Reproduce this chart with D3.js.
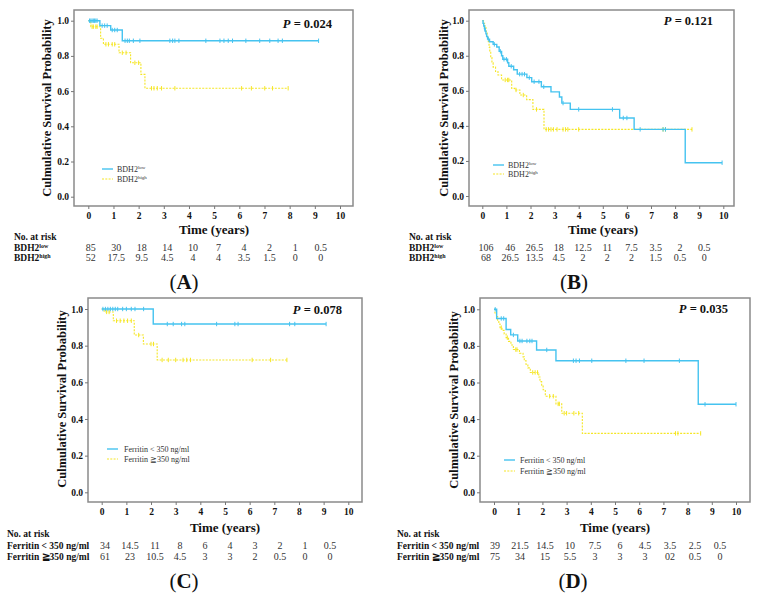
<!DOCTYPE html>
<html><head><meta charset="utf-8">
<script src="https://cdn.jsdelivr.net/npm/d3@7"></script>
<style>body{margin:0;background:#fff}svg{display:block}text{font-family:"Liberation Serif","Times New Roman",serif}</style>
</head><body><svg id="c" width="763" height="596"></svg>
<script>
// ---------- DATA ----------
const timeTicks = [0,1,2,3,4,5,6,7,8,9,10];
const probTicks = [0,0.2,0.4,0.6,0.8,1.0];
const pValues = ["0.024","0.121","0.078","0.035"];
const panelLabels = ["A","B","C","D"];

// Panel A
const aLowT  = [0,0.46,0.89,1.35,9.15];
const aLowS  = [1,0.972,0.947,0.886,0.886];
const aLowCens = [0.05,0.1,0.15,0.2,0.25,0.3,0.35,0.55,0.65,0.75,0.95,1.05,1.15,1.46,1.55,1.63,1.79,2.05,3.24,3.35,3.44,3.6,4.67,5.23,5.39,5.56,5.73,6.26,6.81,7.21,7.54,7.71,9.15];
const aHighT = [0,0.1,0.49,0.6,1.22,1.68,2.09,2.25,7.94];
const aHighS = [1,0.966,0.9,0.866,0.818,0.761,0.695,0.616,0.616];
const aHighCens = [0.15,0.2,0.3,0.35,0.7,0.8,0.95,1.05,1.35,1.5,1.85,2.0,2.51,2.61,2.74,2.91,3.44,6.09,6.48,7.01,7.32,7.94];
const aRiskLow  = ["85","30","18","14","10","7","4","2","1","0.5"];
const aRiskHigh = ["52","17.5","9.5","4.5","4","4","3.5","1.5","0","0"];

// Panel B
const bLowT = [0,0.03,0.06,0.09,0.12,0.15,0.18,0.22,0.3,0.45,0.6,0.7,0.8,0.85,1.05,1.1,1.3,1.45,1.85,2.05,2.45,2.85,3.2,3.3,3.65,5.7,6.3,8.42,9.95];
const bLowS = [1,0.985,0.97,0.955,0.94,0.925,0.91,0.895,0.88,0.865,0.85,0.825,0.8,0.78,0.76,0.74,0.72,0.695,0.675,0.652,0.623,0.594,0.565,0.53,0.494,0.445,0.38,0.19,0.19];
const bLowCens = [0.1,0.25,0.5,0.75,0.9,1.0,1.2,1.55,1.65,1.75,1.95,2.15,2.35,2.55,3.35,4.0,5.4,5.85,6.0,6.55,7.5,7.6,9.95];
const bHighT = [0,0.05,0.1,0.15,0.2,0.25,0.28,0.31,0.35,0.4,0.45,0.55,0.65,0.8,1.22,1.35,1.56,1.84,2.1,2.56,8.7];
const bHighS = [1,0.985,0.97,0.94,0.91,0.88,0.85,0.82,0.79,0.76,0.735,0.71,0.69,0.662,0.614,0.605,0.576,0.55,0.494,0.38,0.38];
const bHighCens = [0.95,1.05,1.1,1.4,1.7,2.25,2.65,2.75,2.85,2.95,3.1,3.35,3.45,3.55,4.0,7.5,7.6,8.7];
const bRiskLow  = ["106","46","26.5","18","12.5","11","7.5","3.5","2","0.5"];
const bRiskHigh = ["68","26.5","13.5","4.5","2","2","2","1.5","0.5","0"];

// Panel C
const cLowT = [0,2.09,9.1];
const cLowS = [1,0.918,0.918];
const cLowCens = [0.05,0.15,0.25,0.35,0.45,0.55,0.65,0.85,1.0,1.2,1.35,1.7,2.66,2.9,3.24,3.37,4.66,5.4,5.53,7.62,7.83,9.1];
const cHighT = [0,0.1,0.47,1.32,1.69,2.25,7.51];
const cHighS = [1,0.984,0.936,0.858,0.809,0.722,0.722];
const cHighCens = [0.2,0.3,0.6,0.75,0.9,1.05,1.2,1.5,2.0,2.1,2.45,2.7,3.0,3.3,3.45,3.6,6.1,6.85,7.51];
const cRiskLow  = ["34","14.5","11","8","6","4","3","2","1","0.5"];
const cRiskHigh = ["61","23","10.5","4.5","3","3","2","0.5","0","0"];

// Panel D
const dLowT = [0,0.11,0.5,0.69,0.98,1.76,2.56,8.44,10.0];
const dLowS = [1,0.95,0.89,0.86,0.827,0.778,0.719,0.481,0.481];
const dLowCens = [0.05,0.3,0.4,0.8,1.07,1.16,1.36,1.48,1.57,2.18,3.28,3.39,3.53,4.04,5.45,6.2,7.66,8.72,10.0];
const dHighT = [0,0.04,0.1,0.15,0.2,0.25,0.33,0.42,0.5,0.6,0.7,0.8,1.05,1.2,1.25,1.32,1.4,1.5,1.85,1.9,1.97,2.03,2.12,2.56,2.8,3.65,8.54];
const dHighS = [1,0.98,0.96,0.94,0.92,0.9,0.885,0.865,0.845,0.825,0.805,0.78,0.76,0.74,0.72,0.7,0.68,0.655,0.63,0.605,0.58,0.56,0.525,0.483,0.432,0.322,0.322];
const dHighCens = [0.3,0.55,0.9,0.95,1.6,1.7,1.8,2.3,2.45,2.65,2.7,2.9,3.0,3.3,3.5,7.5,7.6,8.54];
const dRiskLow  = ["39","21.5","14.5","10","7.5","6","4.5","3.5","2.5","0.5"];
const dRiskHigh = ["75","34","15","5.5","3","3","3","02","0.5","0"];

const groupBDH = [{base:"BDH2",sup:"low"},{base:"BDH2",sup:"high"}];
const groupFer = [{base:"Ferritin < 350 ng/ml",sup:""},{base:"Ferritin \u2267350 ng/ml",sup:""}];
const groupFerRisk = [{base:"Ferritin < 350 ng/ml",sup:""},{base:"Ferritin \u2267350 ng/ml",sup:""}];

// ---------- LAYOUT ----------
const BLUE = "#45c3f0", YELLOW = "#f5e626";
const panels = [
 {box:{l:74,r:353,t:10,b:206}, x0:88.3,x10:340, y1:20.7,y0:196.7,
  low:[aLowT,aLowS,aLowCens], high:[aHighT,aHighS,aHighCens], risk:[aRiskLow,aRiskHigh], groups:groupBDH, rgroups:groupBDH,
  pX:332,pY:28, ytX:48,ytY:108, ttX:214,ttY:234, riskX:14,riskY:240, col:[90.7,320.7], rows:[250.5,261], lab:[184,289],
  leg:{x1:102,x2:113,y:169,dy:10,tx:117}},
 {box:{l:469,r:734,t:10,b:206}, x0:482.3,x10:723.3, y1:20.7,y0:196,
  low:[bLowT,bLowS,bLowCens], high:[bHighT,bHighS,bHighCens], risk:[bRiskLow,bRiskHigh], groups:groupBDH, rgroups:groupBDH,
  pX:713,pY:25, ytX:445,ytY:108, ttX:603,ttY:234, riskX:409,riskY:240, col:[486,704.3], rows:[250.5,261], lab:[574,289],
  leg:{x1:493,x2:504,y:165,dy:9,tx:508}},
 {box:{l:88,r:362,t:298,b:502}, x0:101.7,x10:348.3, y1:309,y0:492.3,
  low:[cLowT,cLowS,cLowCens], high:[cHighT,cHighS,cHighCens], risk:[cRiskLow,cRiskHigh], groups:groupFer, rgroups:groupFerRisk,
  pX:342,pY:314, ytX:63,ytY:399, ttX:225,ttY:532, riskX:7,riskY:537, col:[105,330], rows:[549,560], lab:[184,588],
  leg:{x1:107,x2:118,y:449,dy:10,tx:124}},
 {box:{l:480,r:750,t:298,b:502}, x0:494,x10:736, y1:309.3,y0:492.3,
  low:[dLowT,dLowS,dLowCens], high:[dHighT,dHighS,dHighCens], risk:[dRiskLow,dRiskHigh], groups:groupFer, rgroups:groupFerRisk,
  pX:728,pY:313, ytX:455,ytY:400, ttX:615,ttY:532, riskX:397,riskY:537, col:[495,720], rows:[549,560], lab:[573,588],
  leg:{x1:504,x2:515,y:460,dy:11,tx:520}}
];

const svg = d3.select("#c");

function addLabel(sel, g, baseSize, supSize, bold){
  sel.append("tspan").text(g.base);
  if(g.sup) sel.append("tspan").attr("font-size",supSize).attr("dy",-3).text(g.sup);
}

panels.forEach((p,i)=>{
  const g = svg.append("g");
  const x = d3.scaleLinear().domain([0,10]).range([p.x0,p.x10]);
  const y = d3.scaleLinear().domain([0,1]).range([p.y0,p.y1]);

  // box
  g.append("rect").attr("x",p.box.l).attr("y",p.box.t)
    .attr("width",p.box.r-p.box.l).attr("height",p.box.b-p.box.t)
    .attr("fill","none").attr("stroke","#8a8a8a").attr("stroke-width",1.5);

  // axes
  const ya = g.append("g").attr("transform",`translate(${p.box.l},0)`)
    .call(d3.axisLeft(y).tickValues(probTicks).tickFormat(d3.format(".1f")).tickSize(3).tickPadding(2));
  const xa = g.append("g").attr("transform",`translate(0,${p.box.b})`)
    .call(d3.axisBottom(x).tickValues(timeTicks).tickFormat(d3.format("d")).tickSize(3).tickPadding(3));
  [ya,xa].forEach(a=>{
    a.select(".domain").remove();
    a.selectAll(".tick line").attr("stroke","#777");
    a.selectAll("text").attr("font-family","Liberation Serif, serif").attr("font-weight","bold")
      .attr("font-size",9.5).attr("fill","#111");
  });

  // curves
  const line = d3.line().x(d=>x(d[0])).y(d=>y(d[1])).curve(d3.curveStepAfter);
  const stepAt = (T,S,t)=>{ let v=S[0]; for(let k=0;k<T.length;k++){ if(T[k]<=t) v=S[k]; } return v; };
  const series = [
    {d:p.high, color:YELLOW, dash:"2,1.3", w:1.1},
    {d:p.low, color:BLUE, dash:null, w:1.4}
  ];
  series.forEach(s=>{
    const [T,S,C] = s.d;
    const pts = T.map((t,k)=>[t,S[k]]);
    g.append("path").datum(pts).attr("d",line).attr("fill","none")
      .attr("stroke",s.color).attr("stroke-width",s.w)
      .attr("stroke-dasharray",s.dash);
    g.selectAll(null).data(C).enter().append("line")
      .attr("x1",d=>x(d)).attr("x2",d=>x(d))
      .attr("y1",d=>y(stepAt(T,S,d))-2.2).attr("y2",d=>y(stepAt(T,S,d))+2.2)
      .attr("stroke",s.color).attr("stroke-width",1);
  });

  // p value
  const pt = g.append("text").attr("x",p.pX).attr("y",p.pY).attr("text-anchor","end")
    .attr("font-size",12.5).attr("font-weight","bold").attr("fill","#111");
  pt.append("tspan").attr("font-style","italic").text("P");
  pt.append("tspan").text(" = "+pValues[i]);

  // y title
  g.append("text").attr("transform",`translate(${p.ytX},${p.ytY}) rotate(-90)`)
    .attr("text-anchor","middle").attr("dominant-baseline","middle")
    .attr("font-size",12.5).attr("font-weight","bold").attr("fill","#111")
    .text("Culmulative Survival Probability");
  // x title
  g.append("text").attr("x",p.ttX).attr("y",p.ttY).attr("text-anchor","middle")
    .attr("font-size",13).attr("font-weight","bold").attr("fill","#111").text("Time (years)");

  // legend
  const L = p.leg;
  [[BLUE,null,1.4],[YELLOW,"2,1.3",1.1]].forEach((c,k)=>{
    g.append("line").attr("x1",L.x1).attr("x2",L.x2).attr("y1",L.y+k*L.dy).attr("y2",L.y+k*L.dy)
      .attr("stroke",c[0]).attr("stroke-width",c[2]).attr("stroke-dasharray",c[1]);
    const t = g.append("text").attr("x",L.tx).attr("y",L.y+k*L.dy+3).attr("font-size",8).attr("fill","#333");
    addLabel(t,p.groups[k],8,5);
  });

  // risk table
  g.append("text").attr("x",p.riskX).attr("y",p.riskY).attr("font-size",9.5).attr("font-weight","bold")
    .attr("fill","#111").text("No. at risk");
  const col = d3.scaleLinear().domain([0,9]).range(p.col);
  p.risk.forEach((row,k)=>{
    const t = g.append("text").attr("x",p.riskX).attr("y",p.rows[k]).attr("font-size",9.5)
      .attr("font-weight","bold").attr("fill","#111");
    addLabel(t,p.rgroups[k],9.5,6);
    g.selectAll(null).data(row).enter().append("text")
      .attr("x",(d,j)=>col(j)).attr("y",p.rows[k]).attr("text-anchor","middle")
      .attr("font-size",10).attr("fill","#333").text(d=>d);
  });

  // panel label
  const pl = g.append("text").attr("x",p.lab[0]).attr("y",p.lab[1]).attr("text-anchor","middle")
    .attr("font-size",21).attr("fill","#111");
  pl.append("tspan").text("(");
  pl.append("tspan").attr("font-weight","bold").text(panelLabels[i]);
  pl.append("tspan").text(")");
});
</script></body></html>
